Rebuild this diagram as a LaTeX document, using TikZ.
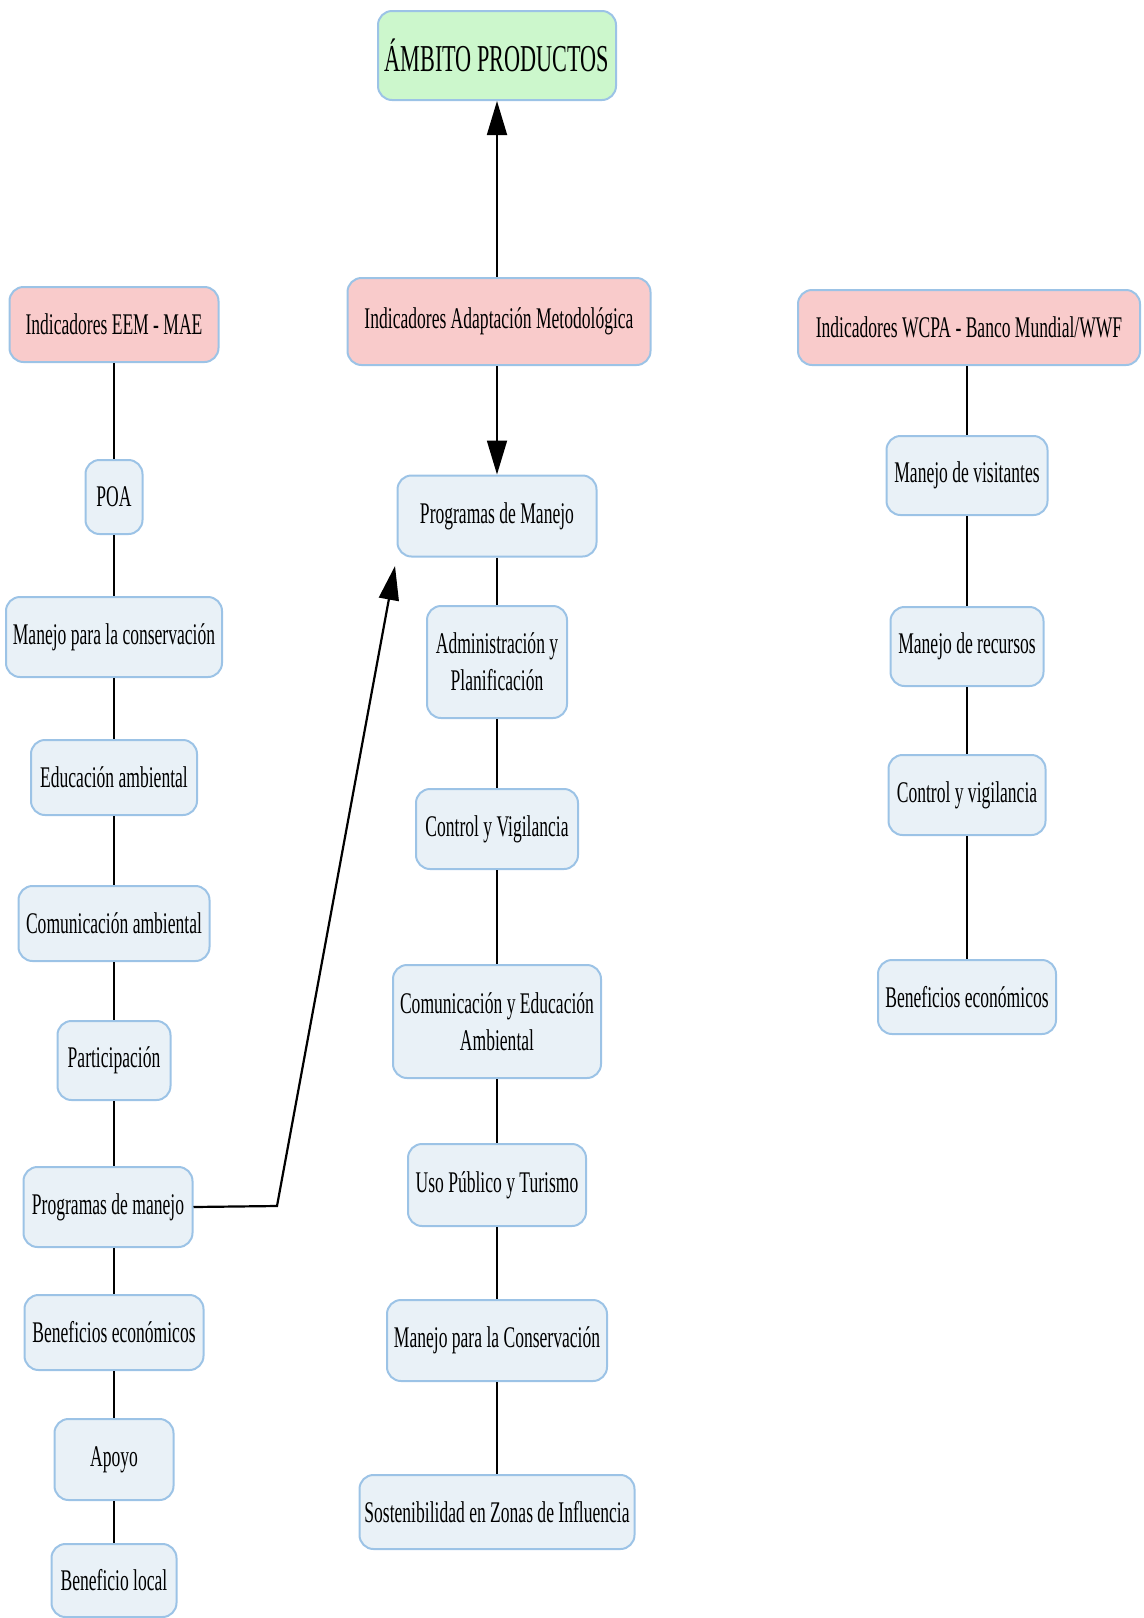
\documentclass[tikz,border=0pt]{standalone}
\usepackage{fontspec}
\setmainfont[FakeStretch=0.585]{Liberation Serif}
\usetikzlibrary{arrows.meta}
\definecolor{boxfill}{HTML}{E9F1F7}
\definecolor{boxline}{HTML}{9CC3E6}
\definecolor{pinkfill}{HTML}{F9CBCB}
\definecolor{greenfill}{HTML}{CCF7CC}
\tikzset{
  box/.style={draw=boxline, fill=boxfill, line width=1pt, rounded corners=7pt,
    inner sep=0pt, align=center, text=black,
    font=\fontsize{15}{18.5}\selectfont},
  headbox/.style={box, fill=pinkfill},
  titlebox/.style={box, fill=greenfill, font=\fontsize{19}{23}\selectfont},
  wh/.style 2 args={minimum width=#1*0.5pt, minimum height=#2*0.5pt},
  link/.style={line width=0.75pt, draw=black},
  bigarrow/.style={line width=0.9pt, -{Triangle[length=17pt,width=10pt]}}
}
\begin{document}
\begin{tikzpicture}[x=0.5pt,y=-0.5pt]
\useasboundingbox (0,0) rectangle (1144,1618);
% title
\node[titlebox, wh={238}{89}] (title) at (497,55.5) {ÁMBITO PRODUCTOS};
% left column
\node[headbox, wh={209}{75}] (eem) at (114,324.5) {Indicadores EEM - MAE};
\node[box, wh={57}{74}] (poa) at (114,497) {POA};
\node[box, wh={216}{80}] (mpc) at (114,637) {Manejo para la conservación};
\node[box, wh={166}{75}] (eda) at (114,777.5) {Educación ambiental};
\node[box, wh={191}{75}] (coa) at (114,923.5) {Comunicación ambiental};
\node[box, wh={113}{79}] (par) at (114,1060.5) {Participación};
\node[box, wh={169}{80}] (pdm) at (108,1207) {Programas de manejo};
\node[box, wh={179}{75}] (bel) at (114,1332.5) {Beneficios económicos};
\node[box, wh={119}{81}] (apo) at (114,1459.5) {Apoyo};
\node[box, wh={125}{73}] (blo) at (114,1580.5) {Beneficio local};
% middle column
\node[headbox, wh={303}{87}] (ada) at (499,321.5) {Indicadores Adaptación Metodológica};
\node[box, wh={199}{81}] (pgm) at (497,516) {Programas de Manejo};
\node[box, wh={140}{112}] (adm) at (497,662) {Administración y\\Planificación};
\node[box, wh={162}{80}] (cyv) at (497,829) {Control y Vigilancia};
\node[box, wh={208}{113}] (cea) at (497,1021.5) {Comunicación y Educación\\Ambiental};
\node[box, wh={178}{82}] (upt) at (497,1185) {Uso Público y Turismo};
\node[box, wh={220}{81}] (mco) at (497,1340.5) {Manejo para la Conservación};
\node[box, wh={275}{74}] (szi) at (497,1512) {Sostenibilidad en Zonas de Influencia};
% right column
\node[headbox, wh={342}{75}] (wcp) at (969,327.5) {Indicadores WCPA - Banco Mundial/WWF};
\node[box, wh={161}{79}] (mvi) at (967,475.5) {Manejo de visitantes};
\node[box, wh={153}{79}] (mre) at (967,646.5) {Manejo de recursos};
\node[box, wh={157}{80}] (cvi) at (967,795) {Control y vigilancia};
\node[box, wh={178}{74}] (bec) at (967,997) {Beneficios económicos};
% connectors left
\draw[link] (eem) -- (poa);
\draw[link] (poa) -- (mpc);
\draw[link] (mpc) -- (eda);
\draw[link] (eda) -- (coa);
\draw[link] (coa) -- (par);
\draw[link] (par.south) -- (par.south |- pdm.north);
\draw[link] (bel.north) -- (bel.north |- pdm.south);
\draw[link] (bel) -- (apo);
\draw[link] (apo) -- (blo);
% connectors middle
\draw[link] (pgm) -- (adm);
\draw[link] (adm) -- (cyv);
\draw[link] (cyv) -- (cea);
\draw[link] (cea) -- (upt);
\draw[link] (upt) -- (mco);
\draw[link] (mco) -- (szi);
% connectors right
\draw[link] (mvi.north |- wcp.south) -- (mvi);
\draw[link] (mvi) -- (mre);
\draw[link] (mre) -- (cvi);
\draw[link] (cvi) -- (bec);
% arrows
\draw[bigarrow] (ada.north -| title.south) -- (title);
\draw[bigarrow] (ada.south -| pgm.north) -- (pgm);
\coordinate (bend) at (277,1206);
\coordinate (tip) at (395,566);
\draw[bigarrow, line width=1.1pt] (pdm.east) -- (bend) -- (tip);
\end{tikzpicture}
\end{document}
